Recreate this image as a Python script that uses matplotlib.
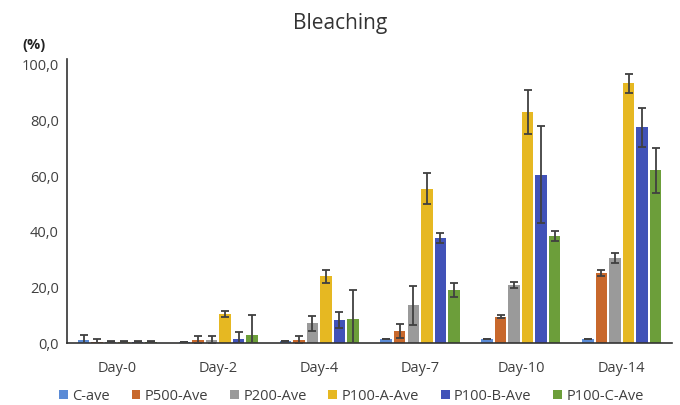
import numpy as np
import matplotlib.pyplot as plt

plt.rcParams['font.family'] = ['Open Sans', 'DejaVu Sans']

# Data
days = ["Day-0", "Day-2", "Day-4", "Day-7", "Day-10", "Day-14"]
series = ["C-ave", "P500-Ave", "P200-Ave", "P100-A-Ave", "P100-B-Ave", "P100-C-Ave"]

c_ave = [1.0, 0.5, 0.8, 1.5, 1.3, 1.3]
p500 = [0.2, 1.2, 1.0, 4.2, 9.5, 25.2]
p200 = [0.5, 1.2, 7.1, 13.6, 20.8, 30.5]
p100a = [0.5, 10.4, 24.0, 55.5, 83.0, 93.3]
p100b = [0.5, 1.5, 8.2, 37.7, 60.5, 77.5]
p100c = [0.5, 3.0, 8.5, 19.1, 38.3, 62.0]

c_err = [1.8, 0.0, 0.0, 0.0, 0.0, 0.0]
p500_err = [1.2, 1.2, 1.4, 2.5, 0.5, 1.2]
p200_err = [0.2, 1.2, 2.6, 7.0, 1.2, 1.8]
p100a_err = [0.2, 1.2, 2.3, 5.5, 8.0, 3.3]
p100b_err = [0.2, 2.6, 2.8, 1.8, 17.5, 7.0]
p100c_err = [0.2, 7.0, 10.6, 2.5, 1.8, 8.0]

values = [c_ave, p500, p200, p100a, p100b, p100c]
errors = [c_err, p500_err, p200_err, p100a_err, p100b_err, p100c_err]
colors = ["#5b8bd6", "#c8682c", "#9a9a9a", "#e6b822", "#4152b8", "#6c9e3a"]

fig = plt.figure(figsize=(6.8, 4.05), dpi=100)
ax = fig.add_axes([0.0985, 0.153, 0.89, 0.701])

x = np.arange(len(days))
slot = 0.134
width = 0.114
for i, (name, vals, errs, col) in enumerate(zip(series, values, errors, colors)):
    pos = x + (i - 2.5) * slot
    ax.bar(pos, vals, width, color=col, label=name, zorder=2)
    ax.errorbar(pos, vals, yerr=errs, fmt="none", ecolor="#404040",
                elinewidth=1.3, capsize=3, capthick=1.3, zorder=3)

ax.set_xlim(-0.5, 5.5)
ax.set_ylim(0, 102)
ax.set_yticks([0, 20, 40, 60, 80, 100])
ax.set_yticklabels(["0,0", "20,0", "40,0", "60,0", "80,0", "100,0"])
ax.set_xticks(x)
ax.set_xticklabels(days)
ax.tick_params(axis="both", length=0, labelsize=10.5, colors="#404040")
ax.tick_params(axis="x", pad=13)
ax.tick_params(axis="y", pad=6)

for s in ["top", "right"]:
    ax.spines[s].set_visible(False)
ax.spines["left"].set_color("#333333")
ax.spines["bottom"].set_color("#333333")
ax.spines["left"].set_linewidth(1.2)
ax.spines["bottom"].set_linewidth(1.2)

fig.text(0.5, 0.943, "Bleaching", ha="center", va="center", fontsize=15, color="#333333")
fig.text(0.05, 0.888, "(%)", ha="center", va="center", fontsize=10.5,
         fontweight="bold", color="#222222")

ax.legend(loc="upper center", bbox_to_anchor=(0.47, -0.115), ncol=6, frameon=False,
          fontsize=10.5, handlelength=0.6, handleheight=0.6, handletextpad=0.3,
          columnspacing=1.5, labelcolor="#404040")

fig.savefig("out.png", dpi=100)
